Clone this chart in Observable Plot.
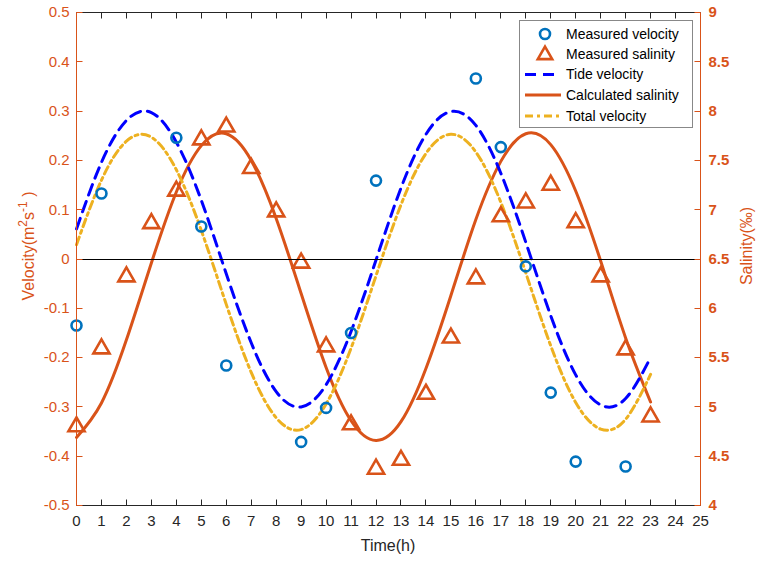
<!DOCTYPE html>
<html>
<head>
<meta charset="utf-8">
<script src="https://cdn.jsdelivr.net/npm/d3@7"></script>
<script src="https://cdn.jsdelivr.net/npm/@observablehq/plot@0.6"></script>
<style>
  html, body { margin: 0; padding: 0; background: #fff; }
  #chart { width: 758px; height: 562px; }
</style>
</head>
<body>
<div id="chart"></div>
<script>
// ---- data ----
const hours = [0,1,2,3,4,5,6,7,8,9,10,11,12,13,14,15,16,17,18,19,20,21,22,23];
const tideVelocity = [0.061,0.196,0.281,0.297,0.237,0.119,-0.030,-0.170,-0.269,-0.300,-0.255,-0.147,-0.002,0.144,0.253,0.299,0.271,0.174,0.034,-0.115,-0.235,-0.296,-0.283,-0.200];
const totalVelocity = [0.029,0.160,0.239,0.247,0.181,0.058,-0.092,-0.230,-0.322,-0.346,-0.294,-0.181,-0.034,0.110,0.214,0.253,0.217,0.115,-0.028,-0.176,-0.291,-0.345,-0.325,-0.234];
const calculatedSalinity = [4.69,5.04,5.68,6.46,7.18,7.65,7.77,7.50,6.91,6.15,5.40,4.86,4.66,4.85,5.39,6.13,6.90,7.49,7.77,7.66,7.19,6.48,5.70,5.05];
const measuredVelHours = [0,1,4,5,6,9,10,11,12,16,17,18,19,20,22];
const measuredVelocity = [-0.135,0.133,0.246,0.066,-0.216,-0.371,-0.302,-0.150,0.159,0.366,0.227,-0.015,-0.271,-0.411,-0.421];
const measuredSalinity = [4.80,5.59,6.32,6.86,7.19,7.71,7.84,7.42,6.98,6.46,5.61,4.82,4.37,4.46,5.13,5.70,6.30,6.93,7.07,7.25,6.87,6.32,5.58,4.90];
const xTicks = [0,1,2,3,4,5,6,7,8,9,10,11,12,13,14,15,16,17,18,19,20,21,22,23,24,25];
const velTicks = [-0.5,-0.4,-0.3,-0.2,-0.1,0,0.1,0.2,0.3,0.4,0.5];
const salTicks = [4,4.5,5,5.5,6,6.5,7,7.5,8,8.5,9];
const legendLabels = ["Measured velocity","Measured salinity","Tide velocity","Calculated salinity","Total velocity"];

// salinity shares the velocity scale: sal = 6.5 + 5 * vel
const salToVel = s => (s - 6.5) / 5;

const ORANGE = "#D95319", BLUE = "#0072BD", PURE_BLUE = "#0000FF", YELLOW = "#EDB120", DARK = "#262626";

const curves = hours.map((h, i) => ({h, tide: tideVelocity[i], total: totalVelocity[i], sal: salToVel(calculatedSalinity[i])}));
const velPts = measuredVelHours.map((h, i) => ({h, v: measuredVelocity[i]}));
const salPts = hours.map((h, i) => ({h, v: salToVel(measuredSalinity[i])}));
const salTickVel = salTicks.map(salToVel);

const W = 758, H = 562, ML = 76, MR = 58, MT = 12, MB = 57;
const xDom = [0, 25], yDom = [-0.5, 0.5];
const font = "'Liberation Sans', Arial, Helvetica, sans-serif";

const chart = Plot.plot({
  width: W, height: H,
  marginLeft: ML, marginRight: MR, marginTop: MT, marginBottom: MB,
  style: {fontFamily: font, fontSize: "15px", background: "#fff", overflow: "visible"},
  x: {domain: xDom},
  y: {domain: yDom},
  marks: [
    Plot.line(curves, {x: "h", y: "sal", stroke: ORANGE, strokeWidth: 3, curve: "natural"}),
    Plot.line(curves, {x: "h", y: "tide", stroke: PURE_BLUE, strokeWidth: 3, strokeDasharray: "11,7", curve: "natural"}),
    Plot.line(curves, {x: "h", y: "total", stroke: YELLOW, strokeWidth: 3, strokeDasharray: "8,4,3,4", curve: "natural"}),
    Plot.dot(velPts, {x: "h", y: "v", r: 5, stroke: BLUE, strokeWidth: 2.6, fill: "none"}),
    Plot.dot(salPts, {x: "h", y: "v", symbol: "triangle", r: 6, stroke: ORANGE, strokeWidth: 2.6, fill: "none"}),
    Plot.axisX({anchor: "bottom", ticks: xTicks, tickSize: 0, tickPadding: 10, color: DARK, label: null, tickFormat: d => String(d)}),
    Plot.axisY({anchor: "left", ticks: velTicks, tickSize: 0, tickPadding: 7, color: ORANGE, label: null, tickFormat: d => d3.format("~g")(d).replace("−", "-")}),
    Plot.axisY({anchor: "right", ticks: salTickVel, tickSize: 0, tickPadding: 8, color: ORANGE, fontWeight: "bold", label: null, tickFormat: (d, i) => String(salTicks[i])})
  ]
});

document.getElementById("chart").appendChild(chart);

const svg = d3.select(chart);
const sx = chart.scale("x"), sy = chart.scale("y");
const px = v => Math.round(sx.apply(v)) + 0.5;
const py = v => Math.round(sy.apply(v)) + 0.5;
const x0 = px(xDom[0]), x1 = px(xDom[1]), yb = py(yDom[0]), yt = py(yDom[1]);

// frame, zero line, inward ticks
const fr = svg.append("g").attr("fill", "none").attr("stroke-width", 1);
fr.append("line").attr("x1", x0).attr("x2", x1).attr("y1", py(0)).attr("y2", py(0)).attr("stroke", "#000");
fr.append("line").attr("x1", x0).attr("x2", x1).attr("y1", yb).attr("y2", yb).attr("stroke", DARK);
fr.append("line").attr("x1", x0).attr("x2", x1).attr("y1", yt).attr("y2", yt).attr("stroke", DARK);
xTicks.forEach(t => {
  fr.append("line").attr("x1", px(t)).attr("x2", px(t)).attr("y1", yb).attr("y2", yb - 6).attr("stroke", DARK);
  fr.append("line").attr("x1", px(t)).attr("x2", px(t)).attr("y1", yt).attr("y2", yt + 6).attr("stroke", DARK);
});
velTicks.forEach(t => {
  fr.append("line").attr("x1", x0).attr("x2", x0 + 6).attr("y1", py(t)).attr("y2", py(t)).attr("stroke", ORANGE);
});
salTickVel.forEach(t => {
  fr.append("line").attr("x1", x1).attr("x2", x1 - 6).attr("y1", py(t)).attr("y2", py(t)).attr("stroke", ORANGE);
});
fr.append("line").attr("x1", x0).attr("x2", x0).attr("y1", yt).attr("y2", yb).attr("stroke", ORANGE);
fr.append("line").attr("x1", x1).attr("x2", x1).attr("y1", yt).attr("y2", yb).attr("stroke", ORANGE);

// axis titles
const yl = svg.append("text")
  .attr("transform", "translate(34,246) rotate(-90)")
  .attr("text-anchor", "middle").attr("fill", ORANGE)
  .style("font-family", font).style("font-size", "16px");
yl.append("tspan").text("Velocity(m");
yl.append("tspan").attr("dy", -7).style("font-size", "12px").text("2");
yl.append("tspan").attr("dy", 7).text("s");
yl.append("tspan").attr("dy", -7).style("font-size", "12px").text("-1");
yl.append("tspan").attr("dy", 7).text(" )");
svg.append("text")
  .attr("transform", "translate(752,246) rotate(-90)")
  .attr("text-anchor", "middle").attr("fill", ORANGE)
  .style("font-family", font).style("font-size", "16px")
  .text("Salinity(‰)");
svg.append("text")
  .attr("x", 388).attr("y", 551)
  .attr("text-anchor", "middle").attr("fill", DARK)
  .style("font-family", font).style("font-size", "16px")
  .text("Time(h)");

// legend
const lg = svg.append("g").style("font-family", font).style("font-size", "14px");
lg.append("rect").attr("x", 519.5).attr("y", 20.5).attr("width", 173).attr("height", 107)
  .attr("fill", "#fff").attr("stroke", "#888").attr("stroke-width", 1);
const rowY = [34, 54, 74.5, 95, 116];
lg.append("circle").attr("cx", 545).attr("cy", rowY[0]).attr("r", 5).attr("fill", "none").attr("stroke", BLUE).attr("stroke-width", 2.6);
lg.append("path").attr("d", d3.symbol(d3.symbolTriangle, 90)()).attr("transform", `translate(545,${rowY[1] + 1})`)
  .attr("fill", "none").attr("stroke", ORANGE).attr("stroke-width", 2.6);
lg.append("line").attr("x1", 525).attr("x2", 561).attr("y1", rowY[2]).attr("y2", rowY[2]).attr("stroke", PURE_BLUE).attr("stroke-width", 3).attr("stroke-dasharray", "11,7");
lg.append("line").attr("x1", 525).attr("x2", 561).attr("y1", rowY[3]).attr("y2", rowY[3]).attr("stroke", ORANGE).attr("stroke-width", 3);
lg.append("line").attr("x1", 525).attr("x2", 561).attr("y1", rowY[4]).attr("y2", rowY[4]).attr("stroke", YELLOW).attr("stroke-width", 3).attr("stroke-dasharray", "8,4,3,4");
legendLabels.forEach((t, i) => {
  lg.append("text").attr("x", 566).attr("y", rowY[i]).attr("dy", "0.35em").attr("text-anchor", "start").attr("fill", "#000").text(t);
});
</script>
</body>
</html>
